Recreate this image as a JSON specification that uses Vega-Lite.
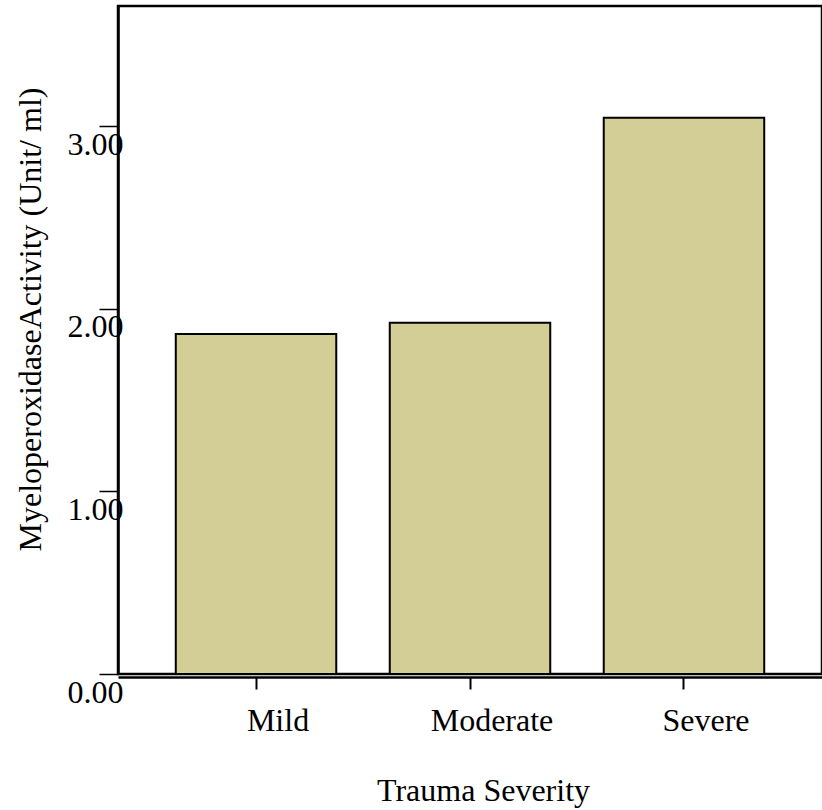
{
  "$schema": "https://vega.github.io/schema/vega-lite/v6.json",
  "width": 704,
  "height": 668,
  "autosize": {"type": "none"},
  "padding": {"left": 118, "top": 6, "right": 0, "bottom": 136},
  "background": "white",
  "config": {
    "view": {"stroke": "black", "strokeWidth": 2.5},
    "font": "Liberation Serif"
  },
  "data": {
    "values": [
      {"severity": "Mild", "mpo": 1.863},
      {"severity": "Moderate", "mpo": 1.925},
      {"severity": "Severe", "mpo": 3.048}
    ]
  },
  "layer": [
    {
      "mark": {"type": "bar", "fill": "#d3cd96", "stroke": "black", "strokeWidth": 2},
      "encoding": {
        "x": {
          "field": "severity",
          "type": "nominal",
          "sort": null,
          "scale": {"paddingInner": 0.25, "paddingOuter": 0.27},
          "axis": {
            "title": "Trauma Severity",
            "offset": 3,
            "domainColor": "black",
            "domainWidth": 2.5,
            "tickColor": "black",
            "tickSize": 12,
            "tickWidth": 2,
            "labelAngle": 0,
            "labelOffset": 22,
            "labelPadding": 16,
            "labelFont": "Liberation Serif",
            "labelFontSize": 32,
            "labelColor": "black",
            "titleFont": "Liberation Serif",
            "titleFontSize": 32,
            "titleFontWeight": "normal",
            "titleColor": "black",
            "titleX": 365,
            "titleY": 123,
            "titleBaseline": "alphabetic",
            "titleAnchor": null
          }
        },
        "y": {
          "field": "mpo",
          "type": "quantitative",
          "scale": {"domain": [0, 3.66], "nice": false},
          "axis": {
            "title": "MyeloperoxidaseActivity (Unit/ ml)",
            "values": [0, 1, 2, 3],
            "format": ".2f",
            "grid": false,
            "domainColor": "black",
            "domainWidth": 2.5,
            "tickColor": "black",
            "tickSize": 19,
            "tickWidth": 1.5,
            "labelPadding": -24,
            "labelOffset": 18,
            "labelFlush": false,
            "labelFont": "Liberation Serif",
            "labelFontSize": 32,
            "labelColor": "black",
            "titleFont": "Liberation Serif",
            "titleFontSize": 32,
            "titleFontWeight": "normal",
            "titleColor": "black",
            "titleAngle": -90,
            "titleAlign": "center",
            "titleBaseline": "middle",
            "titleX": -88,
            "titleY": 313
          }
        }
      }
    },
    {
      "mark": {"type": "rule", "color": "black", "strokeWidth": 2},
      "encoding": {"y": {"datum": 0}}
    }
  ]
}
